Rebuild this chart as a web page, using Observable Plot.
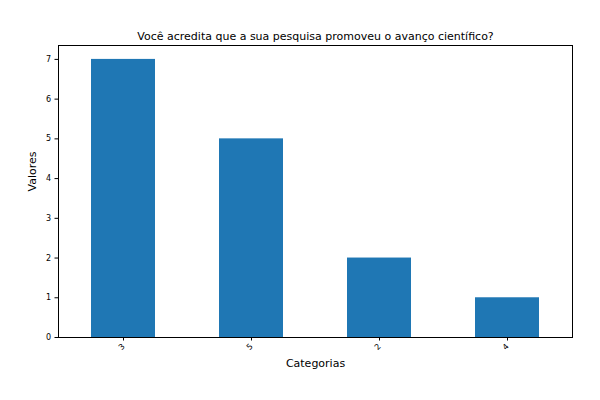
<!DOCTYPE html>
<html>
<head>
<meta charset="utf-8">
<script src="https://cdn.jsdelivr.net/npm/d3@7"></script>
<script src="https://cdn.jsdelivr.net/npm/@observablehq/plot@0.6"></script>
<style>body{margin:0;background:#fff;font-family:"DejaVu Sans",sans-serif;}</style>
</head>
<body>
<div id="chart"></div>
<script>
const categories = ["3", "5", "2", "4"];
const values = [7, 5, 2, 1];
const title = "Você acredita que a sua pesquisa promoveu o avanço científico?";
const data = categories.map((c, i) => ({cat: c, val: values[i]}));

const plot = Plot.plot({
  width: 600,
  height: 400,
  marginTop: 45,
  marginBottom: 63,
  marginLeft: 58,
  marginRight: 28,
  style: {fontFamily: "DejaVu Sans, sans-serif", fontSize: "8px", color: "#000"},
  x: {domain: categories, paddingInner: 0.5, paddingOuter: 0.25, label: null},
  y: {domain: [0, 7.35], ticks: d3.range(0, 8), label: null},
  marks: [
    Plot.barY(data, {x: "cat", y: "val", fill: "#1f77b4"}),
    Plot.axisX({tickRotate: -45, tickSize: 3.5, tickPadding: 4, fontSize: 8, label: null}),
    Plot.axisY({ticks: d3.range(0, 8), tickSize: 3.5, tickPadding: 4, fontSize: 8, label: null}),
    Plot.frame({stroke: "#000", strokeWidth: 1}),
    Plot.text([title], {frameAnchor: "top", dy: -13, fontSize: 11}),
    Plot.text(["Categorias"], {frameAnchor: "bottom", dy: 29, fontSize: 11}),
    Plot.text(["Valores"], {frameAnchor: "left", dx: -26, rotate: -90, fontSize: 11})
  ]
});
document.getElementById("chart").appendChild(plot);
</script>
</body>
</html>
